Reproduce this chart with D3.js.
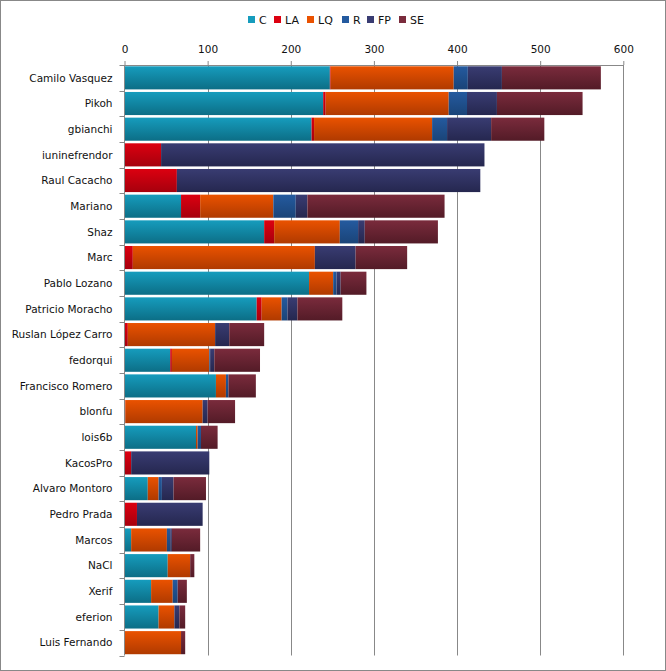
<!DOCTYPE html>
<html><head><meta charset="utf-8">
<script src="https://cdn.jsdelivr.net/npm/d3@7"></script>
<style>body{margin:0;background:#fff}svg{display:block}</style>
</head><body>
<svg id="chart" width="666" height="671"></svg>
<script>
const categories = ["Camilo Vasquez","Pikoh","gbianchi","iuninefrendor","Raul Cacacho","Mariano","Shaz","Marc","Pablo Lozano","Patricio Moracho","Ruslan López Carro","fedorqui","Francisco Romero","blonfu","lois6b","KacosPro","Alvaro Montoro","Pedro Prada","Marcos","NaCl","Xerif","eferion","Luis Fernando"];
const seriesNames = ["C","LA","LQ","R","FP","SE"];
const C  = [247, 239, 225, 0, 0, 68, 168, 0, 222, 159, 0, 55, 110, 0, 86, 0, 28, 0, 8, 52, 32, 41, 0];
const LA = [1, 3, 3, 44, 63, 23, 12, 10, 0, 6, 4, 2, 0, 1, 0, 8, 0, 15, 0, 0, 0, 0, 0];
const LQ = [148, 148, 142, 0, 0, 88, 79, 219, 29, 24, 105, 45, 12, 93, 2, 0, 13, 0, 43, 27, 26, 19, 68];
const R  = [17, 22, 18, 0, 0, 27, 22, 0, 4, 7, 0, 1, 3, 0, 4, 0, 4, 0, 4, 0, 6, 0, 0];
const FP = [41, 36, 53, 389, 365, 14, 8, 49, 5, 12, 17, 5, 0, 6, 0, 94, 14, 79, 2, 0, 0, 6, 0];
const SE = [119, 103, 64, 0, 0, 165, 88, 62, 31, 54, 42, 55, 33, 33, 20, 0, 39, 0, 34, 5, 11, 7, 5];
const xTicks = [0, 100, 200, 300, 400, 500, 600];

(function () {
const seriesValues = {C, LA, LQ, R, FP, SE};
const colors = {
  C:  ["#169cbd", "#0c6e86"],
  LA: ["#dc0010", "#a6000d"],
  LQ: ["#ea5200", "#b03a00"],
  R:  ["#245a9f", "#1a4478"],
  FP: ["#393c72", "#25274f"],
  SE: ["#7a2b3c", "#531b27"]
};
const FONT = "DejaVu Sans, Verdana, sans-serif";

const rows = categories.map((c, i) => {
  const r = {name: c};
  seriesNames.forEach(s => r[s] = seriesValues[s][i]);
  return r;
});

const svg = d3.select("#chart");
const defs = svg.append("defs");
seriesNames.forEach(s => {
  const g = defs.append("linearGradient").attr("id", "g_" + s)
    .attr("x1", 0).attr("y1", 0).attr("x2", 0).attr("y2", 1);
  g.append("stop").attr("offset", "0%").attr("stop-color", colors[s][0]);
  g.append("stop").attr("offset", "100%").attr("stop-color", colors[s][1]);
});

svg.append("rect").attr("x", 0.5).attr("y", 0.5).attr("width", 665).attr("height", 670)
  .attr("fill", "#fff").attr("stroke", "#888").attr("stroke-width", 1);

const pLeft = 124.5, pRight = 623.3, pTop = 65, pBottom = 655.5;
const x = d3.scaleLinear().domain([0, 600]).range([pLeft, pRight]);
const y = d3.scaleBand().domain(categories).range([pTop, pBottom]).paddingInner(0.1).paddingOuter(0.05);
const yb = d3.scaleBand().domain(categories).range([pTop, pBottom]);

svg.append("g").selectAll("line").data(xTicks.slice(1)).join("line")
  .attr("x1", d => Math.round(x(d)) + 0.5).attr("x2", d => Math.round(x(d)) + 0.5)
  .attr("y1", pTop).attr("y2", pBottom)
  .attr("stroke", "#888").attr("stroke-width", 1);

const stack = d3.stack().keys(seriesNames)(rows);
const bars = svg.append("g");
stack.forEach(layer => {
  bars.append("g").attr("fill", "url(#g_" + layer.key + ")")
    .selectAll("rect").data(layer.filter(d => d[1] - d[0] > 0)).join("rect")
    .attr("x", d => x(d[0]))
    .attr("width", d => x(d[1]) - x(d[0]))
    .attr("y", d => y(d.data.name))
    .attr("height", y.bandwidth());
});

const xAxis = d3.axisTop(x).tickValues(xTicks).tickSize(4).tickSizeOuter(0).tickPadding(8);
const gx = svg.append("g").attr("transform", `translate(0,${pTop})`).call(xAxis);
gx.select(".domain").attr("stroke", "#888");
gx.selectAll(".tick line").attr("stroke", "#888");
gx.selectAll(".tick text").attr("font-family", FONT).attr("font-size", 10.5).attr("fill", "#111");

const gy = svg.append("g").attr("transform", `translate(${pLeft},0)`);
gy.append("line").attr("x1", 0).attr("x2", 0).attr("y1", pTop).attr("y2", pBottom).attr("stroke", "#888");
const bounds = categories.map(c => yb(c)).concat([pBottom]);
gy.selectAll("line.tk").data(bounds).join("line").attr("class", "tk")
  .attr("x1", -5).attr("x2", 0).attr("y1", d => Math.round(d) + 0.5).attr("y2", d => Math.round(d) + 0.5)
  .attr("stroke", "#888");
gy.selectAll("text").data(categories).join("text")
  .attr("x", -12).attr("y", d => yb(d) + yb.bandwidth() / 2)
  .attr("dy", "0.35em").attr("text-anchor", "end")
  .attr("font-family", FONT).attr("font-size", 10.5).attr("fill", "#111")
  .text(d => d);

const legX = [248, 274, 307, 342, 367, 399];
const lg = svg.append("g");
seriesNames.forEach((s, i) => {
  lg.append("rect").attr("x", legX[i]).attr("y", 16).attr("width", 7).attr("height", 7)
    .attr("fill", colors[s][0]);
  lg.append("text").attr("x", legX[i] + 11).attr("y", 20).attr("dy", "0.35em")
    .attr("font-family", FONT).attr("font-size", 11).attr("fill", "#111")
    .text(s);
});
})();
</script>
</body></html>
